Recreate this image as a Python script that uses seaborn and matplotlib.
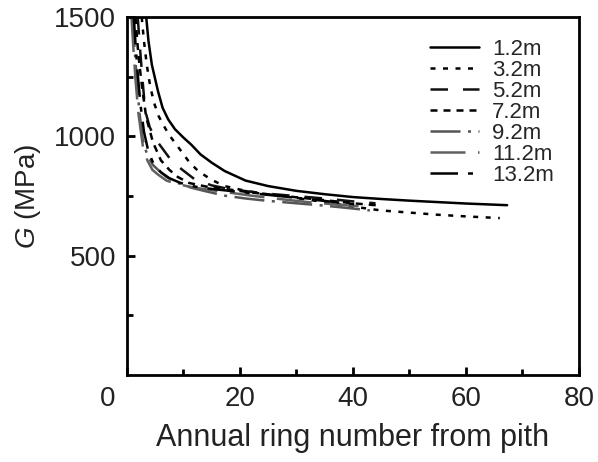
import matplotlib
matplotlib.use("Agg")
import matplotlib.pyplot as plt
import matplotlib.transforms as mtransforms
from matplotlib.ticker import MultipleLocator
import pandas as pd
import seaborn as sns

# values (annual ring number, G in MPa)
x_12 = [3.4, 3.8, 4.4, 5.5, 6.3, 7.3, 8.5, 10, 11.4, 13, 15, 17.3, 21, 25, 30, 35, 40, 45, 50, 55, 60, 67.3]
g_12 = [1500, 1400, 1300, 1188, 1120, 1071, 1030, 995, 965, 925, 890, 855, 815, 792, 772, 758, 746, 738, 731, 725, 719, 712]

x_32 = [2.6, 3.0, 3.5, 4.1, 4.8, 5.6, 6.5, 7.5, 8.6, 9.7, 11, 12.6, 15, 17.3, 21, 25, 30, 35, 40, 45, 50, 55, 60, 66]
g_32 = [1500, 1400, 1300, 1210, 1140, 1085, 1045, 1005, 970, 935, 893, 855, 818, 792, 772, 757, 742, 725, 706, 690, 681, 672, 665, 658]

x_52 = [1.9, 2.2, 2.6, 3.2, 4.0, 5.0, 6.1, 7.5, 9.7, 12, 15, 18, 22, 26, 30, 35, 40, 44]
g_52 = [1500, 1400, 1280, 1110, 1040, 990, 955, 910, 862, 820, 795, 780, 768, 758, 750, 740, 728, 720]

x_72 = [1.5, 1.8, 2.2, 2.7, 3.4, 4.6, 6, 7.5, 9, 11, 14, 18, 22, 26, 30, 35, 40, 45]
g_72 = [1500, 1400, 1300, 1200, 1080, 975, 900, 860, 830, 805, 790, 778, 765, 755, 745, 733, 720, 710]

x_92 = [1.0, 1.3, 1.7, 2.2, 2.8, 3.6, 4.6, 5.5, 7, 9, 11.4, 14, 17.3, 21, 25, 30, 35, 40, 43]
g_92 = [1500, 1380, 1250, 1100, 985, 920, 880, 860, 830, 805, 785, 770, 752, 740, 730, 720, 710, 698, 690]

x_112 = [0.8, 1.1, 1.5, 2.0, 2.8, 3.6, 4.5, 5.5, 7, 9, 12, 15, 18, 22, 27, 32, 37, 41]
g_112 = [1500, 1380, 1240, 1100, 960, 900, 860, 840, 815, 800, 785, 775, 765, 752, 738, 725, 715, 708]

x_132 = [1.2, 1.5, 1.9, 2.4, 3.0, 3.8, 4.8, 6, 7.5, 9.5, 12, 15, 19, 23, 28, 33, 38, 42]
g_132 = [1500, 1390, 1260, 1130, 1020, 935, 880, 850, 825, 805, 790, 780, 770, 760, 748, 735, 722, 712]

heights = ["1.2m", "3.2m", "5.2m", "7.2m", "9.2m", "11.2m", "13.2m"]
xs = [x_12, x_32, x_52, x_72, x_92, x_112, x_132]
gs = [g_12, g_32, g_52, g_72, g_92, g_112, g_132]

frames = []
for h, x, g in zip(heights, xs, gs):
    frames.append(pd.DataFrame({"ring": x, "G": g, "height": h}))
df = pd.concat(frames, ignore_index=True)

dashes = {
    "1.2m": "",
    "3.2m": (2, 3),
    "5.2m": (7, 6),
    "7.2m": (2.8, 2.4),
    "9.2m": (12, 3, 1.2, 3),
    "11.2m": (14, 5),
    "13.2m": (11, 4, 2, 4),
}
palette = {
    "1.2m": "black", "3.2m": "black", "5.2m": "#111111", "7.2m": "black",
    "9.2m": "#555555", "11.2m": "#606060", "13.2m": "black",
}

sns.set_theme(style="ticks")
plt.rcParams["font.family"] = ["Liberation Sans", "DejaVu Sans"]
plt.rcParams["mathtext.fontset"] = "custom"
plt.rcParams["mathtext.it"] = "Liberation Sans:italic"
plt.rcParams["mathtext.rm"] = "Liberation Sans"

fig = plt.figure(figsize=(5.98, 4.62), dpi=100)
ax = fig.add_axes([0.2124, 0.188, 0.7556, 0.775])

sns.lineplot(data=df, x="ring", y="G", hue="height", style="height",
             hue_order=heights, style_order=heights,
             palette=palette, dashes=dashes, estimator=None, sort=False,
             linewidth=1.8, ax=ax)

ax.set_xlim(0, 80)
ax.set_ylim(0, 1500)
ax.xaxis.set_major_locator(MultipleLocator(20))
ax.xaxis.set_minor_locator(MultipleLocator(10))
ax.set_yticks([500, 1000, 1500])
ax.set_yticks([250, 750, 1250], minor=True)

for side in ["left", "right", "top", "bottom"]:
    ax.spines[side].set_visible(True)
    ax.spines[side].set_linewidth(2)
    ax.spines[side].set_color("black")
ax.tick_params(which="both", direction="in", width=2, colors="black",
               labelsize=20, labelcolor="#222222", pad=8)
ax.tick_params(which="major", length=6)
ax.tick_params(which="minor", length=4)

# origin label sits left of the axis in the reference
shift = mtransforms.ScaledTranslation(-0.195, 0, fig.dpi_scale_trans)
for lab in ax.get_xticklabels():
    if lab.get_text() == "0":
        lab.set_transform(lab.get_transform() + shift)

ax.set_xlabel("Annual ring number from pith", fontsize=22, color="#222222", labelpad=8)
ax.set_ylabel(r"$G$ (MPa)", fontsize=20, color="#222222", labelpad=8)

ax.legend(frameon=False, fontsize=16, loc="upper right",
          bbox_to_anchor=(0.965, 0.965), handlelength=2.2, labelspacing=0.0,
          handletextpad=0.6, borderaxespad=0)

fig.savefig("out.png", dpi=100)
